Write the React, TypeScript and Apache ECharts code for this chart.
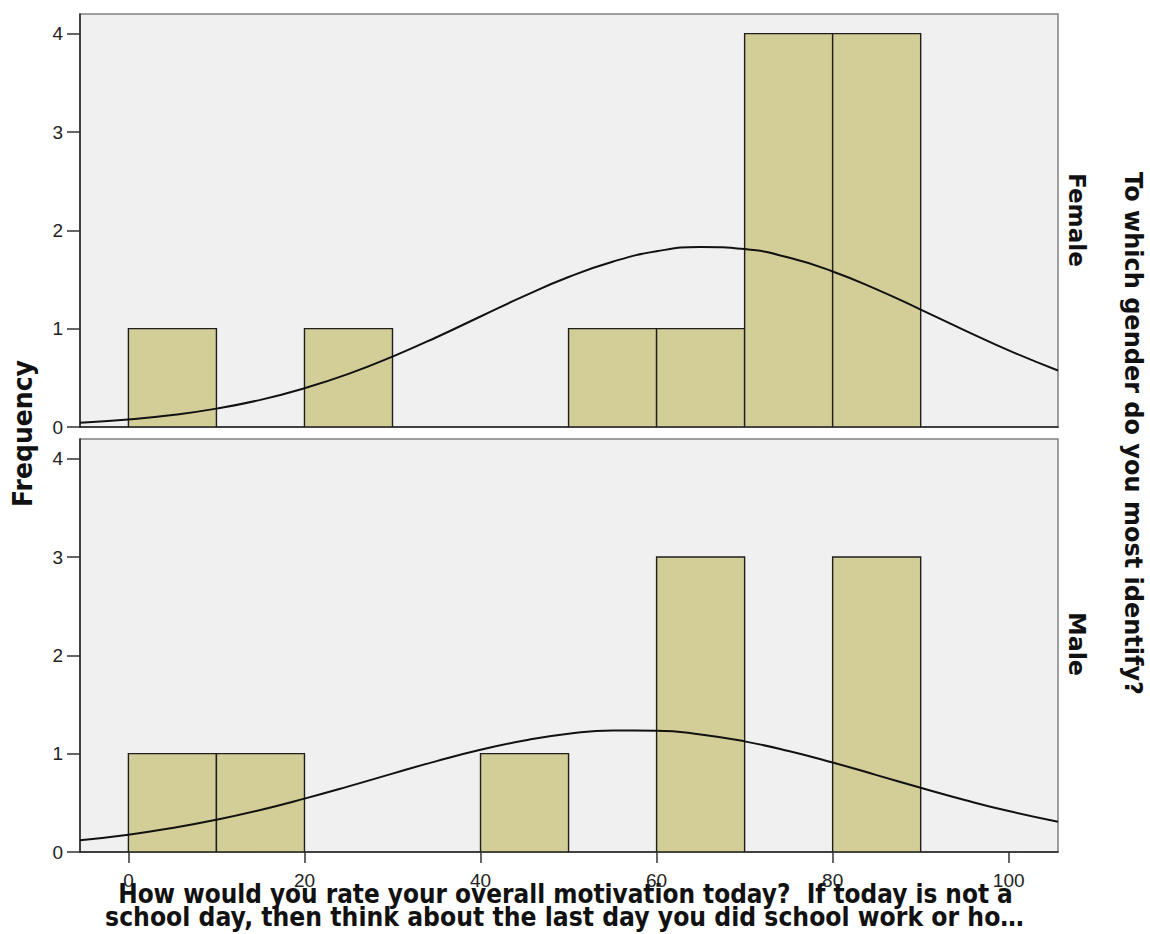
import React, { useEffect, useRef } from "react";
import * as echarts from "echarts";

// ---- data ----
const binStarts = [0, 10, 20, 30, 40, 50, 60, 70, 80];
const binWidth = 10;
const femaleCounts = [1, 0, 1, 0, 0, 1, 1, 4, 4];
const maleCounts = [1, 1, 0, 0, 1, 0, 3, 0, 3];

const curveX = [-5.5, 0, 5, 10, 15, 20, 25, 30, 35, 40, 45, 50, 55, 60, 65, 70, 75, 80, 85, 90, 95, 100, 105.6];
const femaleCurveY = [0.044, 0.077, 0.122, 0.187, 0.276, 0.394, 0.54, 0.716, 0.913, 1.124, 1.333, 1.525, 1.681, 1.787, 1.831, 1.809, 1.723, 1.582, 1.4, 1.194, 0.983, 0.779, 0.575];
const maleCurveY = [0.119, 0.176, 0.244, 0.328, 0.428, 0.543, 0.667, 0.797, 0.924, 1.039, 1.134, 1.202, 1.236, 1.234, 1.196, 1.125, 1.027, 0.91, 0.782, 0.653, 0.529, 0.416, 0.307];

const xTicks = [0, 20, 40, 60, 80, 100];
const yTicks = [0, 1, 2, 3, 4];

const xTitle1 = "How would you rate your overall motivation today?  If today is not a";
const xTitle2 = "school day, then think about the last day you did school work or ho…";
const yTitle = "Frequency";
const panelTitle = "To which gender do you most identify?";
const panelLabels = ["Female", "Male"];

function fitScale(text: string, font: string, target: number): number {
  const ctx = document.createElement("canvas").getContext("2d");
  if (!ctx) return 1;
  ctx.font = font;
  const w = ctx.measureText(text).width;
  return w > 0 ? target / w : 1;
}

function binData(counts: number[]) {
  return binStarts
    .map((s, i) => [s, s + binWidth, counts[i]])
    .filter((d) => d[2] > 0);
}

function curveData(ys: number[]) {
  return curveX.map((x, i) => [x, ys[i]]);
}

const renderBar = (params: any, api: any) => {
  const p0 = api.coord([api.value(0), 0]);
  const p1 = api.coord([api.value(1), api.value(2)]);
  return {
    type: "rect",
    shape: { x: p0[0], y: p1[1], width: p1[0] - p0[0], height: p0[1] - p1[1] },
    style: { fill: "#d3ce97", stroke: "#1e1e1e", lineWidth: 1.4 },
  };
};

function makeText(text: string, x: number, y: number, size: number, target: number, rotation: number) {
  const font = `bold ${size}px 'DejaVu Sans'`;
  const sx = fitScale(text, font, target);
  return {
    type: "text",
    x,
    y,
    rotation,
    scaleX: sx,
    scaleY: 1,
    style: {
      text,
      font,
      fill: "#111",
      align: "center",
      textAlign: "center",
      verticalAlign: "middle",
      textVerticalAlign: "middle",
    },
  };
}

export default function App() {
  const ref = useRef<HTMLDivElement>(null);
  useEffect(() => {
    if (!ref.current) return;
    const chart = echarts.init(ref.current, null, { renderer: "svg" });
    const labelStyle = { fontSize: 19, fontFamily: "'Liberation Sans', Arial, sans-serif", color: "#222" };
    const yAxisCommon = {
      type: "value",
      min: 0,
      max: 4.2,
      axisLine: { show: true, onZero: false, lineStyle: { color: "#222", width: 1.5 } },
      axisTick: { show: true, length: 13, customValues: yTicks, lineStyle: { color: "#333", width: 1.5 } },
      axisLabel: { show: true, margin: 17, customValues: yTicks, ...labelStyle },
      splitLine: { show: false },
    };
    const option: any = {
      animation: false,
      backgroundColor: "#ffffff",
      grid: [
        { left: 80, top: 14, right: 92, height: 413, show: true, backgroundColor: "#f0f0f0", borderColor: "#808080", borderWidth: 1.5 },
        { left: 80, top: 439, right: 92, height: 413, show: true, backgroundColor: "#f0f0f0", borderColor: "#808080", borderWidth: 1.5 },
      ],
      xAxis: [
        {
          type: "value",
          gridIndex: 0,
          min: -5.5,
          max: 105.6,
          axisLine: { show: true, onZero: false, lineStyle: { color: "#222", width: 1.5 } },
          axisTick: { show: false },
          axisLabel: { show: false },
          splitLine: { show: false },
        },
        {
          type: "value",
          gridIndex: 1,
          min: -5.5,
          max: 105.6,
          axisLine: { show: true, onZero: false, lineStyle: { color: "#222", width: 1.5 } },
          axisTick: { show: true, length: 11, customValues: xTicks, lineStyle: { color: "#333", width: 1.5 } },
          axisLabel: { show: true, margin: 19, customValues: xTicks, ...labelStyle },
          splitLine: { show: false },
        },
      ],
      yAxis: [
        { ...yAxisCommon, gridIndex: 0 },
        { ...yAxisCommon, gridIndex: 1 },
      ],
      series: [
        { type: "custom", xAxisIndex: 0, yAxisIndex: 0, renderItem: renderBar, encode: { x: [0, 1], y: 2 }, data: binData(femaleCounts), z: 2, clip: true },
        { type: "custom", xAxisIndex: 1, yAxisIndex: 1, renderItem: renderBar, encode: { x: [0, 1], y: 2 }, data: binData(maleCounts), z: 2, clip: true },
        { type: "line", xAxisIndex: 0, yAxisIndex: 0, data: curveData(femaleCurveY), smooth: true, symbol: "none", lineStyle: { color: "#111", width: 2 }, z: 3 },
        { type: "line", xAxisIndex: 1, yAxisIndex: 1, data: curveData(maleCurveY), smooth: true, symbol: "none", lineStyle: { color: "#111", width: 2 }, z: 3 },
      ],
      graphic: [
        makeText(yTitle, 23, 433.5, 27, 147, Math.PI / 2),
        makeText(xTitle1, 565.5, 894, 26, 895, 0),
        makeText(xTitle2, 564.5, 917.5, 26, 919, 0),
        makeText(panelTitle, 1134, 433.5, 25, 523, -Math.PI / 2),
        makeText(panelLabels[0], 1076.5, 220, 23, 94, -Math.PI / 2),
        makeText(panelLabels[1], 1076.5, 644, 23, 64, -Math.PI / 2),
      ],
    };
    chart.setOption(option);
    return () => chart.dispose();
  }, []);
  return <div ref={ref} style={{ position: "fixed", left: 0, top: 0, width: 1150, height: 934 }} />;
}
